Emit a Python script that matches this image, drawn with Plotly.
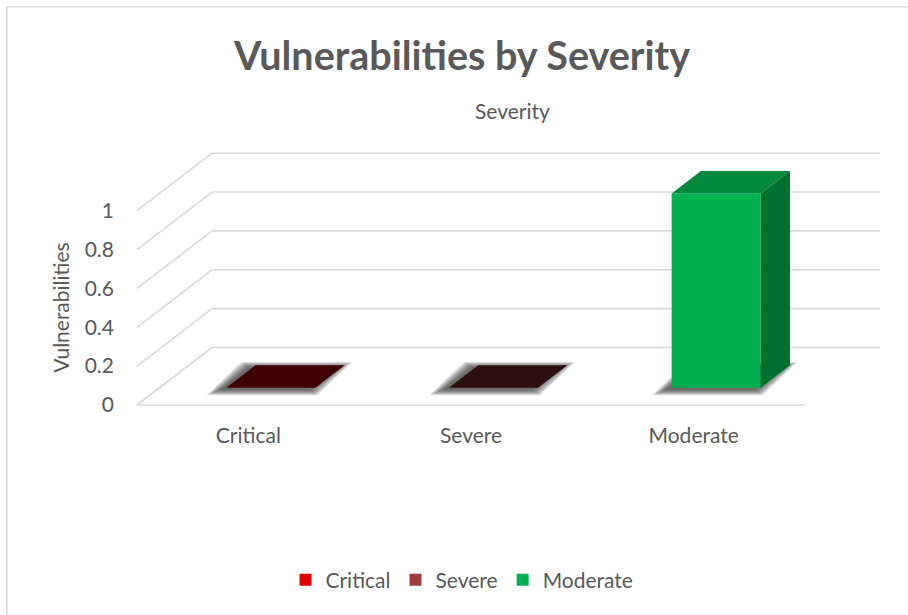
import plotly.graph_objects as go

# ---------------- data ----------------
categories = ["Critical", "Severe", "Moderate"]
values = [0, 0, 1]
legend_colors = ["#E30000", "#A03C3C", "#00B050"]
top_colors = ["#3F0000", "#2E0F0F", "#018A3E"]
side_colors = ["#2A0000", "#1E0808", "#007030"]
y_tickvals = [0, 0.2, 0.4, 0.6, 0.8, 1]
y_ticktext = ["0", "0.2", "0.4", "0.6", "0.8", "1"]

# ---------------- layout calibration (pixels) ----------------
W_PX, H_PX = 908, 615
PX_PER_CAT = 222.67      # horizontal pixels per category
PX_PER_VAL = 194.3       # vertical pixels per value unit
FLOOR_LEFT_PX = 137      # x pixel of category -0.5 at front
FLOOR_Y_PX = 405         # y pixel of value 0 at front
DEPTH_DX_PX, DEPTH_DY_PX = 75, 57.5

DX = DEPTH_DX_PX / PX_PER_CAT        # full depth offset, x units
DY = DEPTH_DY_PX / PX_PER_VAL        # full depth offset, value units
D_FRONT, D_BACK = 0.30, 0.69         # bar depth band
BAR_W = 0.40
px_x = 1 / PX_PER_CAT
px_y = 1 / PX_PER_VAL

x_range = [-0.5 - FLOOR_LEFT_PX / PX_PER_CAT, -0.5 + (W_PX - FLOOR_LEFT_PX) / PX_PER_CAT]
y_range = [-(H_PX - FLOOR_Y_PX) / PX_PER_VAL, FLOOR_Y_PX / PX_PER_VAL]

GRID = "#D9D9D9"
TXT = "#595959"
FONT = "Lato, 'Open Sans', sans-serif"

fig = go.Figure()
shapes = []

# gridlines / walls
n = len(categories)
for t in y_tickvals:
    shapes.append(dict(type="line", xref="x", yref="y", layer="below",
                       x0=-0.5, y0=t, x1=-0.5 + DX, y1=t + DY,
                       line=dict(color=GRID, width=1.6)))
    shapes.append(dict(type="line", xref="x", yref="y", layer="below",
                       x0=-0.5 + DX, y0=t + DY, x1=n - 0.5 + DX, y1=t + DY,
                       line=dict(color=GRID, width=1.6)))
shapes.append(dict(type="line", xref="x", yref="y", layer="below",
                   x0=-0.5, y0=0, x1=n - 0.5, y1=0,
                   line=dict(color=GRID, width=1.6)))

# soft shadows beneath bars (stacked translucent layers to fake blur)
for i, v in enumerate(values):
    ox, oy = -6 * px_x, -2 * px_y
    for k in range(14, -1, -1):
        ex, ey = k * px_x, k * 0.8 * px_y
        xl_f = i - BAR_W / 2 + D_FRONT * DX + ox - ex
        xr_f = i + BAR_W / 2 + D_FRONT * DX + ox + ex * 0.6
        xl_b = i - BAR_W / 2 + D_BACK * DX + ox - ex * 0.6
        xr_b = i + BAR_W / 2 + D_BACK * DX + ox + ex
        yf = D_FRONT * DY + oy - ey * 0.5
        yb = D_BACK * DY + oy + ey * 0.5
        path = f"M{xl_f},{yf} L{xr_f},{yf} L{xr_b},{yb} L{xl_b},{yb} Z"
        shapes.append(dict(type="path", xref="x", yref="y", layer="below",
                           path=path, fillcolor="#2E2E2E", opacity=0.08,
                           line=dict(width=0)))

# front faces (real bars)
for i, (c, v) in enumerate(zip(categories, values)):
    fig.add_trace(go.Bar(
        x=[i + D_FRONT * DX], y=[v], base=[D_FRONT * DY], width=BAR_W,
        name=c, marker=dict(color=legend_colors[i], line=dict(width=0)),
        hoverinfo="skip", showlegend=True,
    ))

# side and top faces
for i, v in enumerate(values):
    xr_f = i + BAR_W / 2 + D_FRONT * DX
    xr_b = i + BAR_W / 2 + D_BACK * DX
    xl_f = i - BAR_W / 2 + D_FRONT * DX
    xl_b = i - BAR_W / 2 + D_BACK * DX
    yf, yb = D_FRONT * DY, D_BACK * DY
    if v > 0:
        fig.add_trace(go.Scatter(
            x=[xr_f, xr_b, xr_b, xr_f, xr_f], y=[yf, yb, v + yb, v + yf, yf],
            fill="toself", fillcolor=side_colors[i], mode="lines",
            line=dict(width=0, color=side_colors[i]), showlegend=False, hoverinfo="skip"))
    fig.add_trace(go.Scatter(
        x=[xl_f, xr_f, xr_b, xl_b, xl_f], y=[v + yf, v + yf, v + yb, v + yb, v + yf],
        fill="toself", fillcolor=top_colors[i], mode="lines",
        line=dict(width=0, color=top_colors[i]), showlegend=False, hoverinfo="skip"))

# chart border
shapes.append(dict(type="rect", xref="paper", yref="paper",
                   x0=7 / W_PX, x1=1.2, y0=-0.2, y1=1 - 7 / H_PX,
                   line=dict(color=GRID, width=1.5), layer="below"))

fig.update_layout(
    width=W_PX, height=H_PX,
    margin=dict(l=0, r=0, t=0, b=0),
    paper_bgcolor="white", plot_bgcolor="white",
    barmode="overlay",
    shapes=shapes,
    showlegend=True,
    legend=dict(orientation="h", x=462 / W_PX, xanchor="center",
                y=1 - 580 / H_PX, yanchor="middle",
                font=dict(family=FONT, size=21, color=TXT),
                traceorder="normal", itemwidth=30, tracegroupgap=0),
    title=dict(text="<b>Vulnerabilities by Severity</b>", x=462 / W_PX, xanchor="center",
               y=1 - 56 / H_PX, yanchor="middle",
               font=dict(family=FONT, size=39.5, color=TXT)),
    xaxis=dict(range=x_range, domain=[0, 1], anchor="free",
               position=(H_PX - FLOOR_Y_PX) / H_PX,
               tickvals=list(range(n)), ticktext=categories,
               showgrid=False, zeroline=False, showline=False, ticks="",
               ticklabelstandoff=16,
               tickfont=dict(family=FONT, size=21, color=TXT), fixedrange=True),
    yaxis=dict(range=y_range, domain=[0, 1], anchor="free",
               position=FLOOR_LEFT_PX / W_PX,
               tickvals=y_tickvals, ticktext=y_ticktext,
               showgrid=False, zeroline=False, showline=False, ticks="",
               ticklabelstandoff=23,
               title=dict(text="Vulnerabilities", standoff=8,
                          font=dict(family=FONT, size=21, color=TXT)),
               tickfont=dict(family=FONT, size=21, color=TXT), fixedrange=True),
    annotations=[dict(text="Severity", xref="paper", yref="paper",
                      x=512 / W_PX, y=1 - 111 / H_PX, xanchor="center", yanchor="middle",
                      showarrow=False, font=dict(family=FONT, size=21, color=TXT))],
)

fig.write_html("out.html")
